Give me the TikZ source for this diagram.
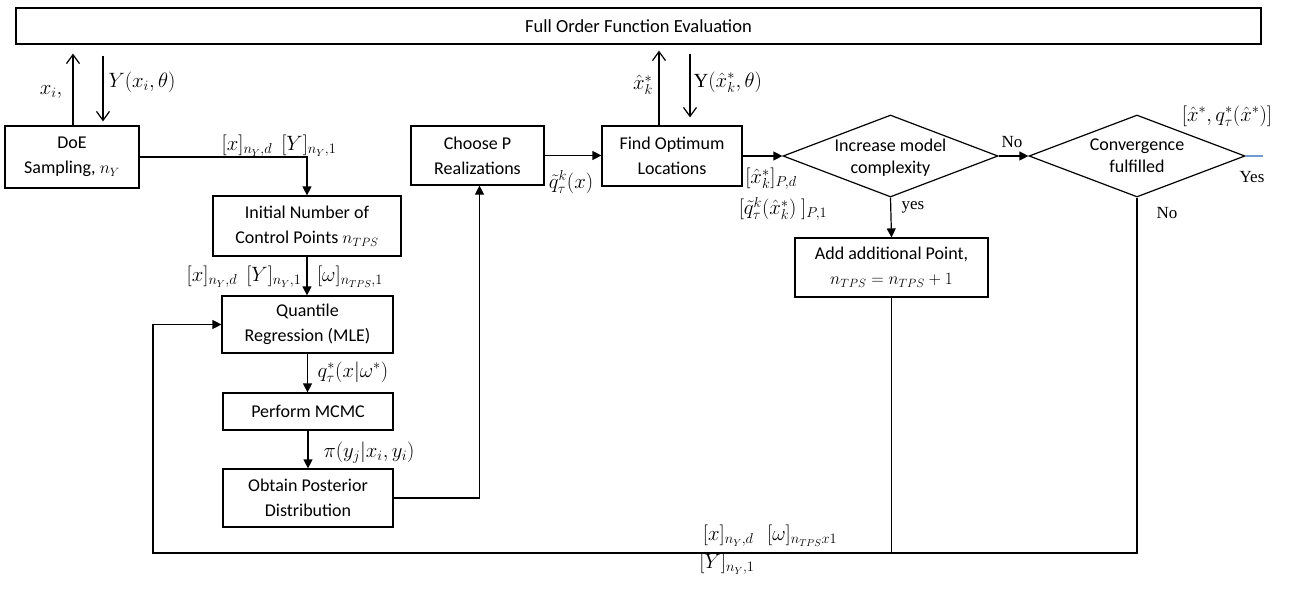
\documentclass[tikz,border=0pt]{standalone}
\usepackage{fontspec}
\setmainfont{Carlito}
\newfontfamily\serifl{Liberation Serif}
\usetikzlibrary{arrows.meta,shapes.geometric,calc}
\definecolor{yesblue}{RGB}{111,155,209}
\begin{document}
\begin{tikzpicture}[x=1pt,y=-1pt,
 box/.style={draw,line width=1.2pt,align=center,inner sep=0pt,font=\fontsize{18}{25}\selectfont},
 dia/.style={draw,diamond,line width=1.2pt,inner sep=0pt,minimum width=215pt,minimum height=82pt},
 diatext/.style={align=center,inner sep=0pt,font=\fontsize{18}{22}\selectfont},
 conn/.style={line width=1.2pt},
 arr/.style={conn,-{Triangle[length=9pt,width=9pt]}},
 oarr/.style={conn,-{Straight Barb[length=9pt,width=13pt]}},
 lab/.style={inner sep=0pt,font=\fontsize{20}{22}\selectfont},
 slab/.style={inner sep=0pt,font=\serifl\fontsize{17}{20}\selectfont}]
\useasboundingbox (0,0) rectangle (1295,594);

% nodes
\node[box,minimum width=1245pt,minimum height=36pt,font=\fontsize{18.5}{22}\selectfont] (top) at (638.5,26) {Full Order Function Evaluation};
\node[box,minimum width=134pt,minimum height=62pt] (doe) at (72,157) {DoE\\Sampling, $n_Y$};
\node[box,minimum width=188pt,minimum height=60pt] (init) at (307,226) {Initial Number of\\Control Points $n_{TPS}$};
\node[box,minimum width=171pt,minimum height=57pt] (quant) at (307.5,324.5) {Quantile\\Regression (MLE)};
\node[box,minimum width=170pt,minimum height=37pt] (mcmc) at (308,411.5) {Perform MCMC};
\node[box,minimum width=170pt,minimum height=58pt] (post) at (308,498) {Obtain Posterior\\Distribution};
\node[box,minimum width=133pt,minimum height=59pt] (choose) at (477.5,155.5) {Choose P\\Realizations};
\node[box,minimum width=140pt,minimum height=60pt] (find) at (672,156) {Find Optimum\\Locations};
\node[dia] (dia1) at (890.5,156) {};
\node[diatext] (dia1t) at (890.5,158) {Increase model\\complexity};
\node[dia,minimum width=216pt] (dia2) at (1137,156) {};
\node[diatext] (dia2t) at (1137,156) {Convergence\\fulfilled};
\node[box,minimum width=193pt,minimum height=59pt] (add) at (891.5,267.5) {Add additional Point,\\$n_{TPS}=n_{TPS}+1$};

\coordinate (yesend) at (1263,156);
\coordinate (bl) at (153,553);

% connectors
\draw[oarr] ($(doe.north)+(1,0)$) -- ($(doe.north |- top.south)+(1,9)$);
\draw[oarr] ($(doe.north |- top.south)+(31,11)$) -- ($(doe.north)+(31,-4)$);
\draw[oarr] ($(find.north)+(-13,0)$) -- ($(find.north |- top.south)+(-13,6)$);
\draw[oarr] ($(find.north |- top.south)+(18,9)$) -- ($(find.north)+(18,-8)$);

\draw[arr] (doe.east) -| (init.north);
\draw[arr] (init.south) -- (init.south |- quant.north);
\draw[arr] (quant.south) -- (quant.south |- mcmc.north);
\draw[arr] (mcmc.south) -- (post.north);
\draw[arr] (post.east) -| ($(choose.south)+(2,0)$);
\draw[arr] (choose.east) -- (choose.east -| find.west);
\draw[arr] (find.east) -- (find.east -| dia1.west);
\draw[arr] (dia1.east) -- (dia2.west);
\draw[arr] (dia1.south) -- (add.north);
\draw[conn,yesblue] (dia2.east) -- (yesend);
\draw[conn] (add.south) -- (add.south |- bl);
\draw[arr] (dia2.south) -- (dia2.south |- bl) -- (bl) -- (bl |- quant.west) -- (quant.west);

% labels
\node[lab] (l1) at (51,92) {$x_i,$};
\node[lab] (l2) at (142,82) {$Y(x_i,\theta)$};
\node[lab] (l3) at (279,146) {$[x]_{n_Y,d}\ \ [Y]_{n_Y,1}$};
\node[lab] (l4) at (571,182) {$\tilde q^k_\tau(x)$};
\node[lab] (l5) at (643,85) {$\hat x^*_k$};
\node[lab] (l6) at (728,82) {{\serifl Y}$(\hat x^*_k,\theta)$};
\node[lab] (l7) at (771,179) {$[\hat x^*_k]_{P,d}$};
\node[lab] (l8) at (783,209) {$[\tilde q^k_\tau(\hat x^*_k)\ ]_{P,1}$};
\node[slab] (l9) at (913,207) {yes};
\node[slab] (l10) at (1012,142) {No};
\node[lab] (l11) at (1227,116) {$[\hat x^*, q^*_\tau(\hat x^*)]$};
\node[slab] (l12) at (1252,177) {Yes};
\node[slab] (l13) at (1167,213) {No};
\node[lab] (l14) at (244,277) {$[x]_{n_Y,d}\ \ [Y]_{n_Y,1}$};
\node[lab] (l15) at (350,277) {$[\omega]_{n_{TPS},1}$};
\node[lab] (l16) at (353,372) {$q^*_\tau(x|\omega^*)$};
\node[lab] (l17) at (369,453) {$\pi(y_j|x_i,y_i)$};
\node[lab] (l18) at (770,536) {$[x]_{n_Y,d}\ \ \ [\omega]_{n_{TPS}x1}$};
\node[lab] (l19) at (727,564) {$[Y]_{n_Y,1}$};
\end{tikzpicture}
\end{document}
